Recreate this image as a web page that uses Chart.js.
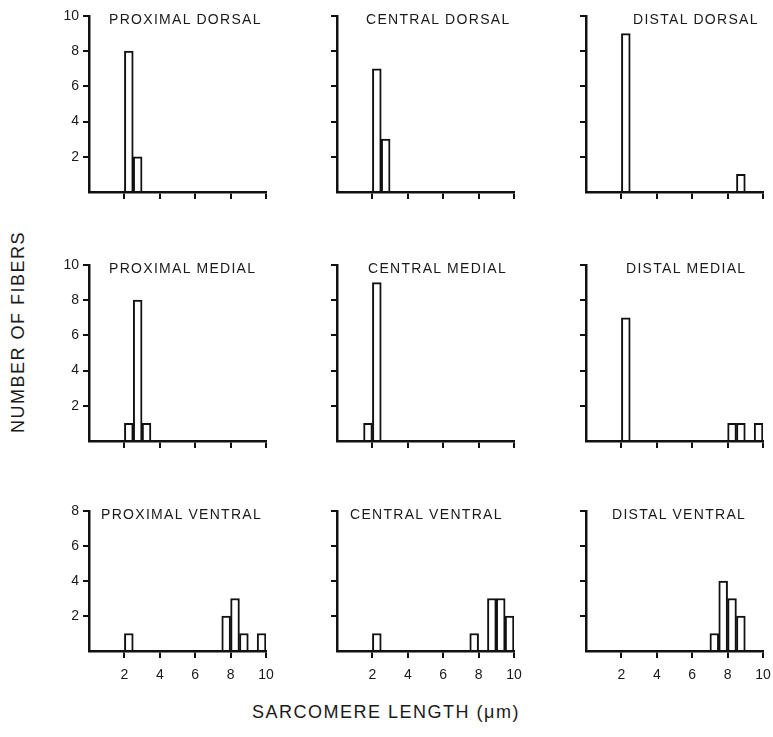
<!DOCTYPE html>
<html>
<head>
<meta charset="utf-8">
<script src="https://cdn.jsdelivr.net/npm/chart.js@4.4.0/dist/chart.umd.min.js"></script>
<style>
    body { margin: 0; background: #fff; }
    #page { position: relative; width: 773px; height: 737px; overflow: hidden; background: #fff; }
    #page canvas { position: absolute; }
    .txt { position: absolute; white-space: nowrap; color: #1a1a1a; font-family: 'Liberation Sans', Arial, sans-serif; }
    .panel-title { font-size: 14px; line-height: 14px; letter-spacing: 1.3px; }
    .axis-title { font-size: 18px; line-height: 18px; letter-spacing: 1.5px; transform: translate(-50%, -50%); }
</style>
</head>
<body>
<div id="page"></div>
<script>
// histogram bins, 0.5 um wide (centres)
const binCentres = [0.25, 0.75, 1.25, 1.75, 2.25, 2.75, 3.25, 3.75, 4.25, 4.75,
                    5.25, 5.75, 6.25, 6.75, 7.25, 7.75, 8.25, 8.75, 9.25, 9.75];
const xTicks = [0, 2, 4, 6, 8, 10];

const titles = [
    'PROXIMAL DORSAL', 'CENTRAL DORSAL', 'DISTAL DORSAL',
    'PROXIMAL MEDIAL', 'CENTRAL MEDIAL', 'DISTAL MEDIAL',
    'PROXIMAL VENTRAL', 'CENTRAL VENTRAL', 'DISTAL VENTRAL'
];

const proximalDorsal = [0, 0, 0, 0, 8, 2, 0, 0, 0, 0, 0, 0, 0, 0, 0, 0, 0, 0, 0, 0];
const centralDorsal  = [0, 0, 0, 0, 7, 3, 0, 0, 0, 0, 0, 0, 0, 0, 0, 0, 0, 0, 0, 0];
const distalDorsal   = [0, 0, 0, 0, 9, 0, 0, 0, 0, 0, 0, 0, 0, 0, 0, 0, 0, 1, 0, 0];
const proximalMedial = [0, 0, 0, 0, 1, 8, 1, 0, 0, 0, 0, 0, 0, 0, 0, 0, 0, 0, 0, 0];
const centralMedial  = [0, 0, 0, 1, 9, 0, 0, 0, 0, 0, 0, 0, 0, 0, 0, 0, 0, 0, 0, 0];
const distalMedial   = [0, 0, 0, 0, 7, 0, 0, 0, 0, 0, 0, 0, 0, 0, 0, 0, 1, 1, 0, 1];
const proximalVentral = [0, 0, 0, 0, 1, 0, 0, 0, 0, 0, 0, 0, 0, 0, 0, 2, 3, 1, 0, 1];
const centralVentral  = [0, 0, 0, 0, 1, 0, 0, 0, 0, 0, 0, 0, 0, 0, 0, 1, 0, 3, 3, 2];
const distalVentral   = [0, 0, 0, 0, 0, 0, 0, 0, 0, 0, 0, 0, 0, 0, 1, 4, 3, 2, 0, 0];

const series = [
    proximalDorsal, centralDorsal, distalDorsal,
    proximalMedial, centralMedial, distalMedial,
    proximalVentral, centralVentral, distalVentral
];
const rowMax = [10, 10, 8];

// layout (pixels)
const colAxisX = [89, 337, 586];
const rowAxisY = [192, 441, 652];
const plotW = 177;
const pxPerCount = 17.6;
const Y_W = 40, X_H = 36, PAD_T = 14, PAD_R = 20;
const titleDx = [20, 29, 47, 20, 31, 40, 12, 13, 26];

const INK = '#111';
const FONT = 'Liberation Sans, Arial, sans-serif';

function addText(cls, text, left, top) {
    const d = document.createElement('div');
    d.className = 'txt ' + cls;
    d.textContent = text;
    d.style.left = left + 'px';
    d.style.top = top + 'px';
    document.getElementById('page').appendChild(d);
    return d;
}

function renderPanel(i) {
    const col = i % 3;
    const row = Math.floor(i / 3);
    const yMax = rowMax[row];
    const plotH = yMax * pxPerCount;
    const chartTop = rowAxisY[row] - plotH;

    const canvas = document.createElement('canvas');
    canvas.width = Y_W + plotW + PAD_R;
    canvas.height = PAD_T + plotH + X_H;
    canvas.style.left = (colAxisX[col] - Y_W) + 'px';
    canvas.style.top = (chartTop - PAD_T) + 'px';
    document.getElementById('page').appendChild(canvas);

    const tickColor = c => (c.tick && c.tick.value === 0) ? 'rgba(0,0,0,0)' : INK;

    new Chart(canvas, {
        type: 'bar',
        data: {
            datasets: [{
                data: binCentres.map((x, k) => ({ x, y: series[i][k] })),
                backgroundColor: '#fff',
                borderColor: INK,
                borderWidth: 2,
                barPercentage: 1,
                categoryPercentage: 1
            }]
        },
        options: {
            responsive: false,
            animation: false,
            devicePixelRatio: 1,
            layout: { padding: { left: 0, top: PAD_T, right: PAD_R, bottom: 0 } },
            plugins: { legend: { display: false }, tooltip: { enabled: false } },
            scales: {
                x: {
                    type: 'linear',
                    min: 0,
                    max: 10,
                    offset: false,
                    afterFit: s => { s.height = X_H; },
                    afterBuildTicks: s => { s.ticks = xTicks.map(v => ({ value: v })); },
                    border: { display: true, color: INK, width: 2.5 },
                    grid: { display: true, offset: false, drawOnChartArea: false, drawTicks: true, tickLength: 7, color: tickColor, lineWidth: 2 },
                    ticks: {
                        display: row === 2,
                        padding: 9,
                        color: '#1a1a1a',
                        font: { family: FONT, size: 14 },
                        maxRotation: 0,
                        callback: v => v === 0 ? '' : v
                    }
                },
                y: {
                    min: 0,
                    max: yMax,
                    afterFit: s => { s.width = Y_W; },
                    border: { display: true, color: INK, width: 2.5 },
                    grid: { display: true, offset: false, drawOnChartArea: false, drawTicks: true, tickLength: 6, color: tickColor, lineWidth: 2 },
                    ticks: {
                        display: col === 0,
                        stepSize: 2,
                        padding: 4,
                        color: '#1a1a1a',
                        font: { family: FONT, size: 14 },
                        callback: v => v === 0 ? '' : v
                    }
                }
            }
        }
    });

    addText('panel-title', titles[i], colAxisX[col] + titleDx[i], chartTop - 4);
}

document.addEventListener('DOMContentLoaded', () => {
    for (let i = 0; i < 9; i++) renderPanel(i);
    const yl = addText('axis-title', 'NUMBER OF FIBERS', 18, 332);
    yl.style.transform = 'translate(-50%, -50%) rotate(-90deg)';
    addText('axis-title', 'SARCOMERE LENGTH (\u03bcm)', 386, 712);
});
</script>
</body>
</html>
